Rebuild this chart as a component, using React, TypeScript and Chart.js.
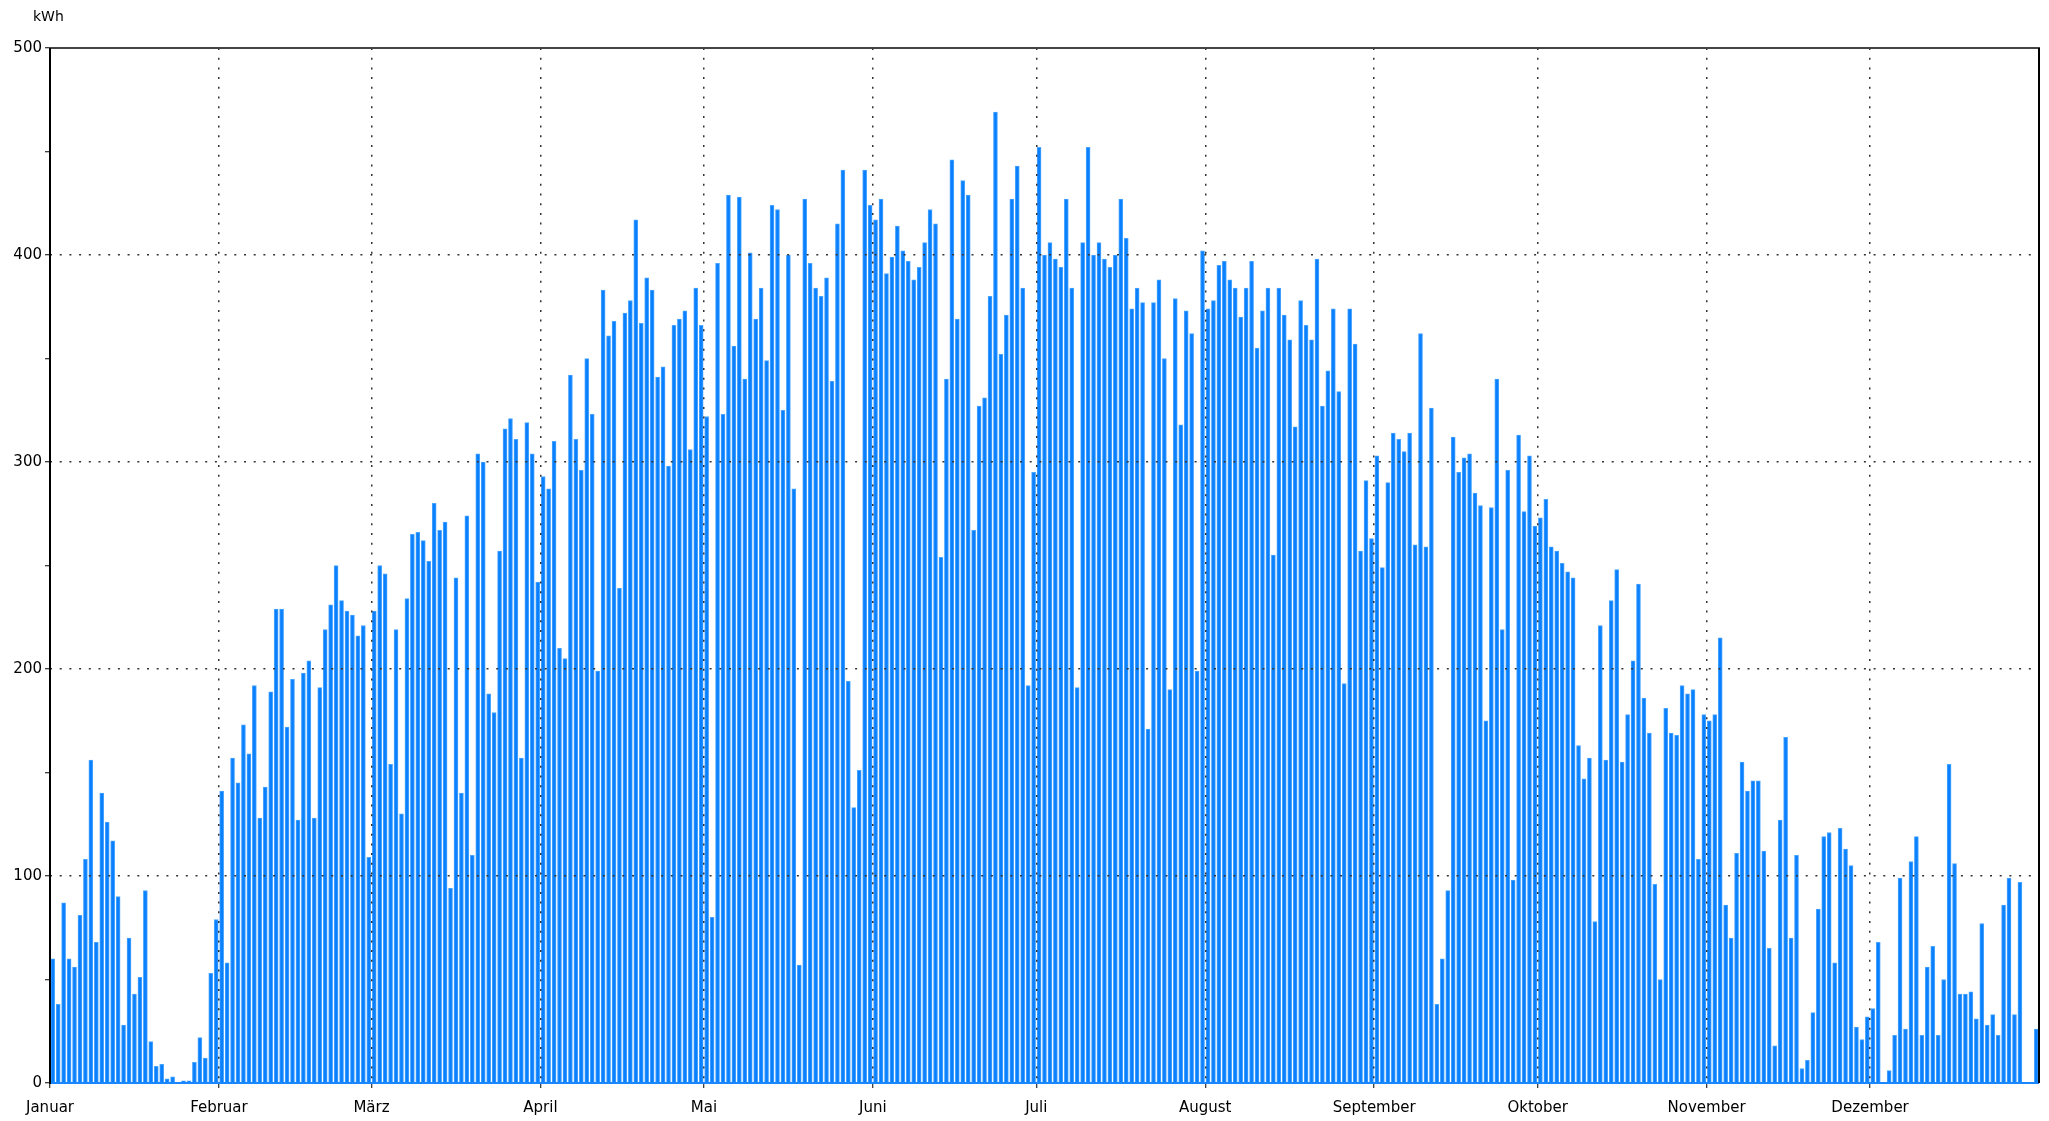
import React, { useEffect, useRef } from "react";
import { Chart, registerables } from "chart.js";

Chart.register(...registerables);

// Daily peak values (kWh), one per day
const jan = [60, 38, 87, 60, 56, 81, 108, 156, 68, 140, 126, 117, 90, 28, 70, 43, 51, 93, 20, 8, 9, 2, 3, 0, 1, 1, 10, 22, 12, 53, 79];
const feb = [141, 58, 157, 145, 173, 159, 192, 128, 143, 189, 229, 229, 172, 195, 127, 198, 204, 128, 191, 219, 231, 250, 233, 228, 226, 216, 221, 109];
const mar = [228, 250, 246, 154, 219, 130, 234, 265, 266, 262, 252, 280, 267, 271, 94, 244, 140, 274, 110, 304, 300, 188, 179, 257, 316, 321, 311, 157, 319, 304, 242];
const apr = [293, 287, 310, 210, 205, 342, 311, 296, 350, 323, 199, 383, 361, 368, 239, 372, 378, 417, 367, 389, 383, 341, 346, 298, 366, 369, 373, 306, 384, 366];
const may = [322, 80, 396, 323, 429, 356, 428, 340, 401, 369, 384, 349, 424, 422, 325, 400, 287, 57, 427, 396, 384, 380, 389, 339, 415, 441, 194, 133, 151, 441, 424];
const jun = [417, 427, 391, 399, 414, 402, 397, 388, 394, 406, 422, 415, 254, 340, 446, 369, 436, 429, 267, 327, 331, 380, 469, 352, 371, 427, 443, 384, 192, 295];
const jul = [452, 400, 406, 398, 394, 427, 384, 191, 406, 452, 400, 406, 398, 394, 400, 427, 408, 374, 384, 377, 171, 377, 388, 350, 190, 379, 318, 373, 362, 199, 402];
const aug = [374, 378, 395, 397, 388, 384, 370, 384, 397, 355, 373, 384, 255, 384, 371, 359, 317, 378, 366, 359, 398, 327, 344, 374, 334, 193, 374, 357, 257, 291, 263];
const sep = [303, 249, 290, 314, 311, 305, 314, 260, 362, 259, 326, 38, 60, 93, 312, 295, 302, 304, 285, 279, 175, 278, 340, 219, 296, 98, 313, 276, 303, 269];
const oct = [273, 282, 259, 257, 251, 247, 244, 163, 147, 157, 78, 221, 156, 233, 248, 155, 178, 204, 241, 186, 169, 96, 50, 181, 169, 168, 192, 188, 190, 108, 178];
const nov = [175, 178, 215, 86, 70, 111, 155, 141, 146, 146, 112, 65, 18, 127, 167, 70, 110, 7, 11, 34, 84, 119, 121, 58, 123, 113, 105, 27, 21, 32];
const dec = [36, 68, 0, 6, 23, 99, 26, 107, 119, 23, 56, 66, 23, 50, 154, 106, 43, 43, 44, 31, 77, 28, 33, 23, 86, 99, 33, 97, 0, 0, 26];

const months = [jan, feb, mar, apr, may, jun, jul, aug, sep, oct, nov, dec];
const monthNames = ["Januar", "Februar", "März", "April", "Mai", "Juni", "Juli", "August", "September", "Oktober", "November", "Dezember"];
const yTicks = [0, 100, 200, 300, 400, 500];

const FONT = '"DejaVu Sans", sans-serif';

export default function App() {
  const ref = useRef<HTMLCanvasElement>(null);

  useEffect(() => {
    const monthStarts: number[] = [];
    const points: { x: number; y: number }[] = [];
    let day = 0;
    months.forEach((m) => {
      monthStarts.push(day);
      m.forEach((v) => {
        points.push({ x: day + 0.5, y: v });
        day++;
      });
    });
    const totalDays = day;

    const framePlugin = {
      id: "frame",
      afterDraw(chart: any) {
        const { ctx, chartArea: a } = chart;
        ctx.save();
        ctx.lineWidth = 2;
        ctx.strokeStyle = "#1a86ff";
        ctx.beginPath();
        ctx.moveTo(a.left, a.bottom);
        ctx.lineTo(a.right, a.bottom);
        ctx.stroke();
        ctx.strokeStyle = "#444";
        ctx.beginPath();
        ctx.moveTo(a.left, a.top);
        ctx.lineTo(a.right + 1, a.top);
        ctx.stroke();
        ctx.strokeStyle = "#000";
        ctx.beginPath();
        ctx.moveTo(a.left, a.top);
        ctx.lineTo(a.left, a.bottom + 1);
        ctx.moveTo(a.right, a.top);
        ctx.lineTo(a.right, a.bottom);
        ctx.stroke();
        ctx.fillStyle = "#000";
        ctx.font = `14px ${FONT}`;
        ctx.textBaseline = "middle";
        ctx.textAlign = "left";
        ctx.fillText("kWh", 33, 17);
        ctx.restore();
      },
    };

    const chart = new Chart(ref.current!, {
      type: "bar",
      data: {
        datasets: [
          {
            data: points as any,
            backgroundColor: "#0a80ff",
            borderColor: "#4aa5ff",
            borderWidth: 1,
            barThickness: 4,
          } as any,
        ],
      },
      options: {
        animation: false,
        responsive: false,
        devicePixelRatio: 1,
        layout: { autoPadding: false, padding: { top: 48, right: 10, left: 0, bottom: 0 } } as any,
        plugins: { legend: { display: false }, tooltip: { enabled: false } },
        scales: {
          x: {
            type: "linear",
            min: 0,
            max: totalDays,
            offset: false,
            afterFit: (s: any) => {
              s.height = 38;
            },
            afterBuildTicks: (s: any) => {
              s.ticks = monthStarts.map((v) => ({ value: v }));
            },
            ticks: {
              autoSkip: false,
              maxRotation: 0,
              padding: 11,
              color: "#000",
              font: { family: FONT, size: 15 },
              callback: (v: any) => {
                const i = monthStarts.indexOf(Number(v));
                return i >= 0 ? monthNames[i] : "";
              },
            },
            grid: {
              offset: false,
              z: 1,
              color: (c: any) => (c.tick && c.tick.value > 0 ? "#333" : "rgba(0,0,0,0)"),
              lineWidth: 1.5,
              drawTicks: true,
              tickLength: 5,
              tickColor: "#000",
              tickWidth: 1,
            },
            border: { display: false, dash: [2, 7.7], z: 2 },
          } as any,
          y: {
            min: 0,
            max: 500,
            afterFit: (s: any) => {
              s.width = 50;
            },
            afterBuildTicks: (s: any) => {
              const t: { value: number }[] = [];
              for (let v = 0; v <= 500; v += 50) t.push({ value: v });
              s.ticks = t;
            },
            ticks: {
              autoSkip: false,
              padding: 3,
              color: "#000",
              font: { family: FONT, size: 15 },
              callback: (v: any) => (yTicks.includes(Number(v)) ? String(v) : ""),
            },
            grid: {
              z: 1,
              color: (c: any) =>
                c.tick && c.tick.value % 100 === 0 && c.tick.value > 0 && c.tick.value < 500 ? "#333" : "rgba(0,0,0,0)",
              lineWidth: 1.5,
              drawTicks: true,
              tickLength: 5,
              tickColor: "#000",
              tickWidth: 1,
            },
            border: { display: false, dash: [2, 7.7], z: 2 },
          } as any,
        },
      },
      plugins: [framePlugin],
    });
    return () => chart.destroy();
  }, []);

  return (
    <div style={{ position: "fixed", left: 0, top: 0, width: 2049, height: 1121, background: "#fff" }}>
      <canvas ref={ref} width={2049} height={1121} style={{ display: "block", width: 2049, height: 1121 }} />
    </div>
  );
}
